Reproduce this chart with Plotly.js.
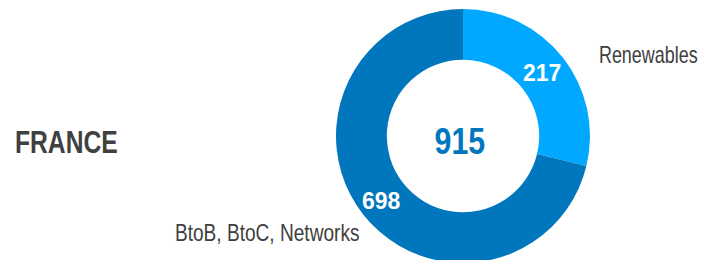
<!DOCTYPE html>
<html>
<head>
<meta charset="utf-8">
<script src="https://cdn.plot.ly/plotly-3.0.1.min.js"></script>
<style>
html,body{margin:0;padding:0;overflow:hidden;background:#fff;width:703px;height:260px;}
#chart{width:703px;height:280px;}
</style>
</head>
<body>
<div id="chart"></div>
<script>
// Data
const regionName = "FRANCE";
const categories = ["Renewables", "BtoB, BtoC, Networks"];
const values = [217, 698];
const total = 915;
// Arc shares as drawn in the picture (percent of the ring)
const sliceShares = [28.8, 71.2];
const colors = ["#00A9FF", "#0077BD"];

const FONT = "'Liberation Sans', Arial, sans-serif";
const H = 280, W = 703;
const px = x => x / W;
const py = y => (H - y) / H;

const trace = {
  type: "pie",
  labels: categories,
  values: sliceShares,
  hole: 0.6,
  sort: false,
  direction: "clockwise",
  rotation: 0,
  textinfo: "none",
  hoverinfo: "none",
  marker: {colors: colors, line: {width: 0}},
  domain: {x: [px(336), px(590)], y: [py(263), py(9)]},
  showlegend: false
};

// layout / style helpers
const valuePos = [[541.7, 73.3], [381, 200.5]];
const labelPos = [[648, 55], [266.5, 233.3]];
const labelScale = [0.78, 0.83];

const annotations = [];
const scales = [];
values.forEach((v, i) => {
  annotations.push({
    x: px(valuePos[i][0]), y: py(valuePos[i][1]), xref: "paper", yref: "paper",
    text: "<b>" + v + "</b>", showarrow: false, xanchor: "center", yanchor: "middle",
    font: {family: FONT, size: 23, color: "#ffffff"}
  });
  scales.push([1, "center"]);
});
categories.forEach((c, i) => {
  annotations.push({
    x: px(labelPos[i][0]), y: py(labelPos[i][1]), xref: "paper", yref: "paper",
    text: c, showarrow: false, xanchor: "center", yanchor: "middle",
    font: {family: FONT, size: 23, color: "#404040"}
  });
  scales.push([labelScale[i], "center"]);
});
annotations.push({
  x: px(460.3), y: py(141), xref: "paper", yref: "paper",
  text: "<b>" + total + "</b>", showarrow: false, xanchor: "center", yanchor: "middle",
  font: {family: FONT, size: 37, color: "#0077BD"}
});
scales.push([0.82, "center"]);
annotations.push({
  x: px(13.3), y: py(141.7), xref: "paper", yref: "paper",
  text: "<b>" + regionName + "</b>", showarrow: false, xanchor: "left", yanchor: "middle",
  font: {family: FONT, size: 32, color: "#404040"}
});
scales.push([0.77, "left center"]);

const layout = {
  width: W, height: H,
  margin: {l: 0, r: 0, t: 0, b: 0, pad: 0},
  paper_bgcolor: "#ffffff",
  annotations: annotations
};

Plotly.newPlot("chart", [trace], layout, {staticPlot: true, displayModeBar: false}).then(() => {
  const texts = document.querySelectorAll("#chart g.annotation text.annotation-text");
  texts.forEach((t, i) => {
    if (!scales[i]) return;
    t.style.transformBox = "fill-box";
    t.style.transformOrigin = scales[i][1];
    t.style.transform = "scaleX(" + scales[i][0] + ")";
  });
});
</script>
</body>
</html>
